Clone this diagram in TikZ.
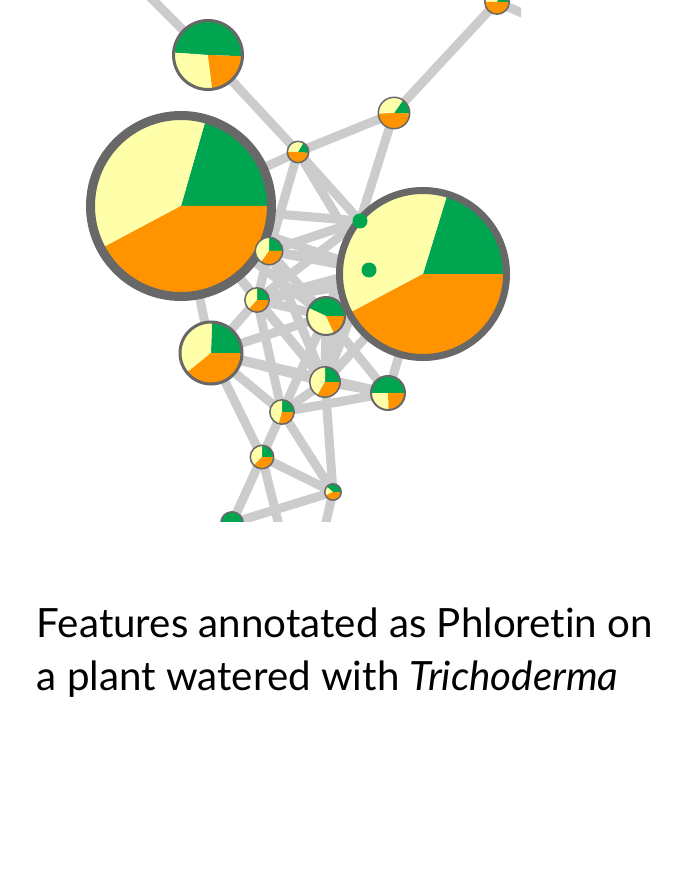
\documentclass[tikz,border=0pt]{standalone}
\usepackage{fontspec}
\setmainfont{Lato}[Ligatures=NoCommon]
\usepackage{tikz}
\definecolor{piegreen}{RGB}{0,165,80}
\definecolor{pieorange}{RGB}{255,148,0}
\definecolor{pieyellow}{RGB}{255,255,170}
\definecolor{ringgray}{RGB}{104,104,104}
\definecolor{edgegray}{RGB}{204,204,204}

% center, radius, ring width, green start, green/yellow, yellow/orange
\newcommand{\drawpie}[6]{%
  \fill[piegreen] (#1) -- ++(#4:#2) arc[start angle=#4, end angle=#5, radius=#2] -- cycle;
  \fill[pieyellow] (#1) -- ++(#5:#2) arc[start angle=#5, end angle=#6, radius=#2] -- cycle;
  \fill[pieorange] (#1) -- ++(#6:#2) arc[start angle=#6, end angle=#4+360, radius=#2] -- cycle;
  \draw[ringgray, line width=#3] (#1) circle[radius=#2];}

\begin{document}
\begin{tikzpicture}[x=1pt,y=1pt,
    edge/.style={edgegray, line width=9pt},
    caption/.style={inner sep=0pt, anchor=base west, font=\fontsize{40.3}{52}\selectfont}]
  \useasboundingbox (0,0) rectangle (693,-890);
  \foreach \n/\x/\y in {A/208/55, B/181/206, C/423/274, D/497/2, E/394/113, F/298/152,
      G/269/251, H/257/300, I/326/316, J/211/353, K/325/382, L/388/393, M/282/412,
      N/262/457, O/333/492, P/232/523, Q1/360/221, Q2/369/270,
      T1/120/-33, T2/560/30, T3/290/570, T4/315/570}
    \coordinate (\n) at (\x,-\y);
  \begin{scope}
    \clip (0,0) rectangle (521,-521);
    \foreach \a/\b in {T1/A, A/F, T2/D, D/E, E/F, E/Q1, F/B, F/G, F/Q1, F/Q2,
        B/Q1, B/Q2, B/G, B/H, B/I, B/J, B/K, G/Q1, G/Q2, G/I, G/H, G/C, G/K, H/Q1,
        H/I, H/Q2, H/C, H/K, H/J, H/M, Q1/Q2, Q1/I, Q1/K, Q2/I, Q2/K, I/C, I/K, I/L,
        I/M, C/K, C/L, K/L, K/M, K/O, J/I, J/K, J/L, J/M, J/N, M/L, M/N, M/O, N/O,
        N/P, N/T3, O/P, O/T4}
      \draw[edge] (\a) -- (\b);
    \foreach \n/\r/\w/\g/\s/\t in {A/34.5/3/-2/176/277, B/90.5/9/0/74/208, C/83.5/7/0/73/208,
        D/12.2/1.5/0/70/180, E/15.7/1.5/-2/55/183, F/10.7/1.5/-5/60/180,
        G/13.7/1.5/0/90/235, H/12.2/1.5/0/90/228, I/19/2/0/155/295,
        J/31/3/0/88/219, K/15.2/1.5/0/90/240, L/17/2/0/180/272,
        M/12.2/1.5/0/90/255, N/11.7/1.5/0/90/225, O/8.2/1.5/0/140/205,
        P/11.2/1.5/0/180/270}
      \drawpie{\n}{\r}{\w pt}{\g}{\s}{\t};
    \fill[piegreen] (Q1) circle[radius=7.5];
    \fill[piegreen] (Q2) circle[radius=7.5];
  \end{scope}
  \node[caption] (line1) at (36.7,-637) {Features annotated as Phloretin on};
  \node[caption] (line2) at (36.7,-690) {a plant watered with \textit{Trichoderma}};
\end{tikzpicture}
\end{document}
